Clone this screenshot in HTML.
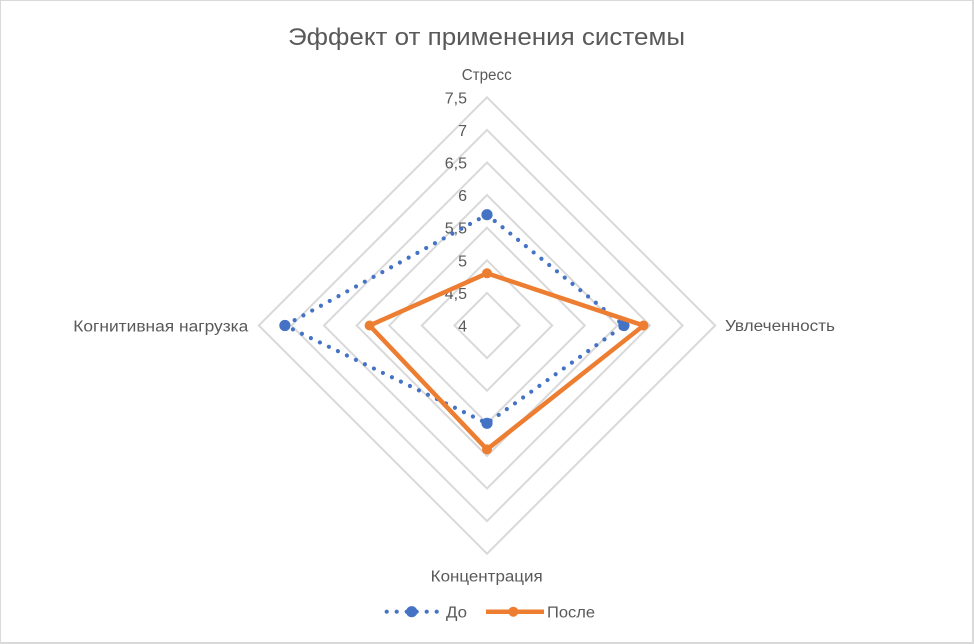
<!DOCTYPE html>
<html>
<head>
<meta charset="utf-8">
<style>
  html,body{margin:0;padding:0;background:#fff;}
  svg{display:block;}
  text{font-family:"Liberation Sans","DejaVu Sans",sans-serif;fill:#595959;}
</style>
</head>
<body>
<svg width="974" height="644" viewBox="0 0 974 644" xmlns="http://www.w3.org/2000/svg">
  <rect x="0" y="0" width="974" height="644" fill="#d9d9d9"/>
  <rect x="1" y="1" width="971" height="641" fill="#ffffff"/>

  <!-- title -->
  <text x="486.5" y="45" font-size="24" text-anchor="middle" textLength="397" lengthAdjust="spacingAndGlyphs">Эффект от применения системы</text>

  <!-- grid rings -->
  <g fill="none" stroke="#d9d9d9" stroke-width="2">
    <polygon points="487,292.9 519.6,325.5 487,358.1 454.4,325.5"/>
    <polygon points="487,260.3 552.2,325.5 487,390.7 421.8,325.5"/>
    <polygon points="487,227.7 584.8,325.5 487,423.3 389.2,325.5"/>
    <polygon points="487,195.1 617.4,325.5 487,455.9 356.6,325.5"/>
    <polygon points="487,162.5 650,325.5 487,488.5 324,325.5"/>
    <polygon points="487,129.9 682.6,325.5 487,521.1 291.4,325.5"/>
    <polygon points="487,97.3 715.2,325.5 487,553.7 258.8,325.5"/>
  </g>

  <!-- tick labels -->
  <g font-size="16" text-anchor="end">
    <text x="467" y="331.5">4</text>
    <text x="467" y="298.9">4,5</text>
    <text x="467" y="266.3">5</text>
    <text x="467" y="233.7">5,5</text>
    <text x="467" y="201.1">6</text>
    <text x="467" y="168.5">6,5</text>
    <text x="467" y="135.9">7</text>
    <text x="467" y="103.5">7,5</text>
  </g>

  <!-- category labels -->
  <g font-size="15.5">
    <text x="486.7" y="80" text-anchor="middle" textLength="50" lengthAdjust="spacingAndGlyphs">Стресс</text>
    <text x="725" y="331" textLength="110" lengthAdjust="spacingAndGlyphs">Увлеченность</text>
    <text x="73.3" y="331.5" textLength="175" lengthAdjust="spacingAndGlyphs">Когнитивная нагрузка</text>
    <text x="486.7" y="581.5" text-anchor="middle" textLength="112" lengthAdjust="spacingAndGlyphs">Концентрация</text>
  </g>

  <!-- series До -->
  <polygon points="487,214.7 623.9,325.5 487,423.3 284.9,325.5" fill="none" stroke="#4472C4" stroke-width="4.2" stroke-dasharray="0 10" stroke-linecap="round"/>
  <g fill="#4472C4">
    <circle cx="487" cy="214.7" r="5.6"/>
    <circle cx="623.9" cy="325.5" r="5.6"/>
    <circle cx="487" cy="423.3" r="5.6"/>
    <circle cx="284.9" cy="325.5" r="5.6"/>
  </g>

  <!-- series После -->
  <polygon points="487,273.3 643.5,325.5 487,449.4 369.6,325.5" fill="none" stroke="#ED7D31" stroke-width="4.5" stroke-linejoin="round"/>
  <g fill="#ED7D31">
    <circle cx="487" cy="273.3" r="5"/>
    <circle cx="643.5" cy="325.5" r="5"/>
    <circle cx="487" cy="449.4" r="5"/>
    <circle cx="369.6" cy="325.5" r="5"/>
  </g>

  <!-- legend -->
  <line x1="386.7" y1="611.7" x2="438" y2="611.7" stroke="#4472C4" stroke-width="4.2" stroke-dasharray="0 10" stroke-linecap="round"/>
  <circle cx="411.7" cy="611.7" r="5.6" fill="#4472C4"/>
  <text x="446" y="617.5" font-size="15.5" textLength="21" lengthAdjust="spacingAndGlyphs">До</text>
  <line x1="486" y1="611.7" x2="544" y2="611.7" stroke="#ED7D31" stroke-width="4.5"/>
  <circle cx="513.3" cy="611.7" r="5" fill="#ED7D31"/>
  <text x="547" y="617.5" font-size="15.5" textLength="48" lengthAdjust="spacingAndGlyphs">После</text>
</svg>
</body>
</html>
